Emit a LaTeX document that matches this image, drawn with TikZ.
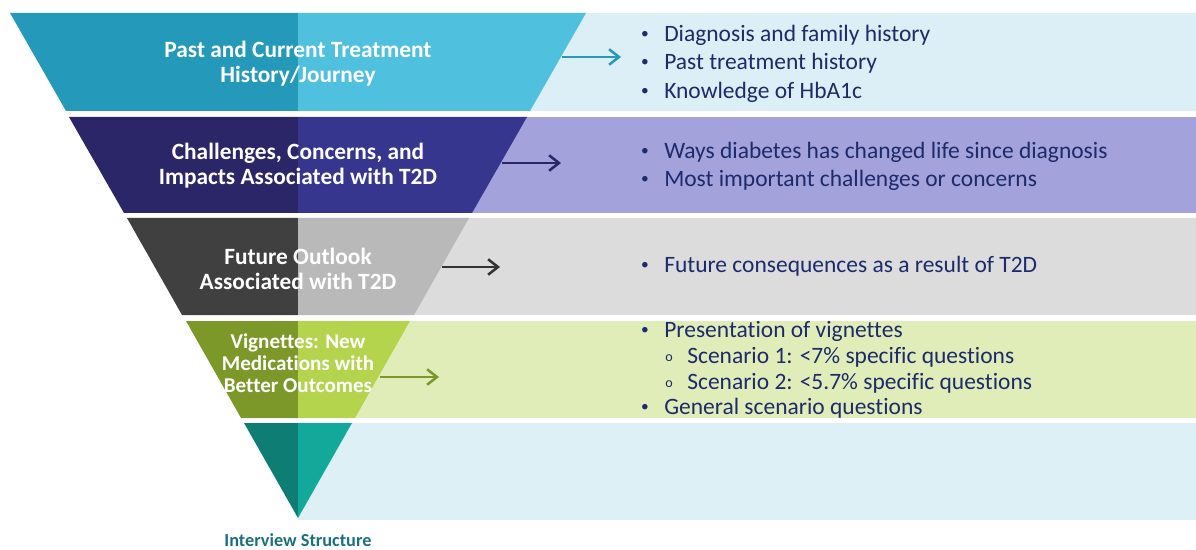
\documentclass[tikz,border=0pt]{standalone}
\usepackage{fontspec}
\setmainfont[RawFeature=-liga]{Carlito}
\usetikzlibrary{arrows.meta}

\definecolor{tealD}{HTML}{2499B9}
\definecolor{tealL}{HTML}{4FC0DE}
\definecolor{tealP}{HTML}{DCEFF7}
\definecolor{navyD}{HTML}{2B2668}
\definecolor{navyL}{HTML}{36368E}
\definecolor{navyP}{HTML}{A3A2DB}
\definecolor{greyD}{HTML}{404040}
\definecolor{greyL}{HTML}{B9B9B9}
\definecolor{greyP}{HTML}{DCDCDC}
\definecolor{leafD}{HTML}{7C9829}
\definecolor{leafL}{HTML}{B4D44E}
\definecolor{leafP}{HTML}{E1EDB9}
\definecolor{seaD}{HTML}{0E7E74}
\definecolor{seaL}{HTML}{12A89A}
\definecolor{seaP}{HTML}{DDF0F6}
\definecolor{ink}{HTML}{1D2A6B}
\definecolor{capt}{HTML}{1B6F80}

\tikzset{
  stage/.style={text=white, align=center, font=\bfseries\fontsize{16.6}{17.8}\selectfont},
  point/.style={anchor=west, text=ink, inner sep=0pt, font=\fontsize{16.7}{18}\selectfont},
  dot/.style={text=ink, inner sep=0pt, font=\fontsize{11}{12}\selectfont},
  link/.style={line width=1.8pt, -{Straight Barb[length=7pt,width=11pt,line width=1.8pt]}}
}

\begin{document}
\begin{tikzpicture}[x=0.025cm, y=-0.025cm]
\useasboundingbox (0,0) rectangle (1196,550);
% 右侧底色
\fill[tealP] (298,13) rectangle (1196,111);
\fill[navyP] (298,117) rectangle (1196,213);
\fill[greyP] (298,218) rectangle (1196,315);
\fill[leafP] (298,321) rectangle (1196,418);
\fill[seaP] (298,423) rectangle (1196,520);
% 漏斗: 左半深色, 右半浅色
\fill[tealD] (10,13) -- (298,13) -- (298,111) -- (66,111) -- cycle;
\fill[tealL] (298,13) -- (586,13) -- (530,111) -- (298,111) -- cycle;
\fill[navyD] (69,117) -- (298,117) -- (298,213) -- (124,213) -- cycle;
\fill[navyL] (298,117) -- (527,117) -- (472,213) -- (298,213) -- cycle;
\fill[greyD] (127,218) -- (298,218) -- (298,315) -- (182,315) -- cycle;
\fill[greyL] (298,218) -- (469,218) -- (414,315) -- (298,315) -- cycle;
\fill[leafD] (186,321) -- (298,321) -- (298,418) -- (241,418) -- cycle;
\fill[leafL] (298,321) -- (410,321) -- (355,418) -- (298,418) -- cycle;
\fill[seaD] (244,423) -- (298,423) -- (298,518) -- cycle;
\fill[seaL] (298,423) -- (352,423) -- (298,518) -- cycle;
% 漏斗文字
\node[stage] (s1) at (298,64) {Past and Current Treatment\\History/Journey};
\node[stage] (s2) at (298,166) {Challenges, Concerns, and\\Impacts Associated with T2D};
\node[stage] (s3) at (298,269) {Future Outlook\\Associated with T2D};
\node[stage, font=\bfseries\fontsize{15}{15.6}\selectfont] (s4) at (298,363) {Vignettes: New\\Medications with\\Better Outcomes};
\node[text=capt, inner sep=0pt, font=\bfseries\fontsize{13}{14}\selectfont] (cap) at (298,540) {Interview Structure};
% 箭头
\coordinate (a1s) at (562,57);  \coordinate (a1e) at (621,57);
\coordinate (a2s) at (502,163); \coordinate (a2e) at (561,163);
\coordinate (a3s) at (442,267); \coordinate (a3e) at (500,267);
\coordinate (a4s) at (380,377); \coordinate (a4e) at (439,377);
\draw[link, tealD] (a1s) -- (a1e);
\draw[link, navyD] (a2s) -- (a2e);
\draw[link, greyD!80!black] (a3s) -- (a3e);
\draw[link, leafD] (a4s) -- (a4e);
% 第一层要点
\node[dot] (b1a) at (645,35) {\textbullet};
\node[point] (t1a) at (664,35) {Diagnosis and family history};
\node[dot] (b1b) at (645,63) {\textbullet};
\node[point] (t1b) at (664,63) {Past treatment history};
\node[dot] (b1c) at (645,92) {\textbullet};
\node[point] (t1c) at (664,92) {Knowledge of HbA1c};
% 第二层要点
\node[dot] (b2a) at (645,152) {\textbullet};
\node[point] (t2a) at (664,152) {Ways diabetes has changed life since diagnosis};
\node[dot] (b2b) at (645,180) {\textbullet};
\node[point] (t2b) at (664,180) {Most important challenges or concerns};
% 第三层要点
\node[dot] (b3a) at (645,266) {\textbullet};
\node[point] (t3a) at (664,266) {Future consequences as a result of T2D};
% 第四层要点
\node[dot] (b4a) at (645,331) {\textbullet};
\node[point] (t4a) at (664,331) {Presentation of vignettes};
\node[dot, font=\fontsize{10}{10}\selectfont] (b4b) at (669,358) {o};
\node[point] (t4b) at (687,357) {Scenario 1: <7\% specific questions};
\node[dot, font=\fontsize{10}{10}\selectfont] (b4c) at (669,384) {o};
\node[point] (t4c) at (687,383) {Scenario 2: <5.7\% specific questions};
\node[dot] (b4d) at (645,408) {\textbullet};
\node[point] (t4d) at (664,408) {General scenario questions};
\end{tikzpicture}
\end{document}
